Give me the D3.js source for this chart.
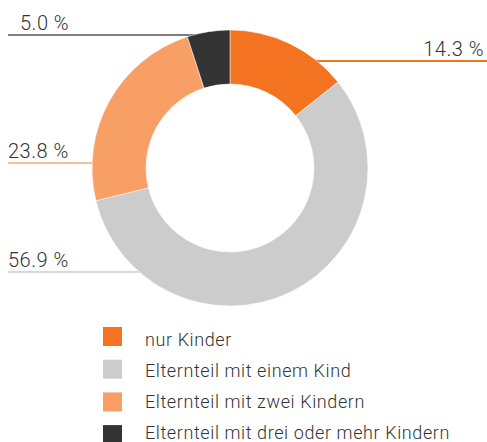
<!DOCTYPE html>
<html>
<head>
<meta charset="utf-8">
<script src="https://cdnjs.cloudflare.com/ajax/libs/d3/7.8.5/d3.min.js"></script>
<style>
  body { margin: 0; background: #fff; }
  svg { display: block; }
</style>
</head>
<body>
<svg id="chart" width="487" height="442"></svg>
<script>
// slice data, clockwise from 12 o'clock
const categories = ['nur Kinder', 'Elternteil mit einem Kind', 'Elternteil mit zwei Kindern', 'Elternteil mit drei oder mehr Kindern'];
const values = [14.3, 56.9, 23.8, 5.0];
const colors = ['#f47321', '#cccccc', '#f89f66', '#333333'];
const lineColors = ['#f47321', '#cccccc', '#f9a474', '#555555'];

// where each callout sits (label row and side)
const labelY = [61, 272, 163, 35];
const labelSide = ['right', 'left', 'left', 'left'];

let width = 487;
let cx = 230, cy = 168;
let outerR = 138, innerR = 84;

let svg = d3.select('#chart');

// callout lines stop at the outer edge of the ring
let callouts = svg.append('g');
values.forEach(function(v, i){
    let dy = labelY[i] - cy;
    let half = Math.sqrt(Math.max(0, outerR * outerR - dy * dy));
    let right = labelSide[i] == 'right';
    callouts.append('line')
        .attr('x1', right ? width : 8)
        .attr('x2', right ? cx + half - 2 : cx - half + 2)
        .attr('y1', labelY[i])
        .attr('y2', labelY[i])
        .attr('stroke', lineColors[i])
        .attr('stroke-width', i == 0 ? 2 : 1.5);
    callouts.append('text')
        .attr('x', right ? 484 : (i == 3 ? 20 : 8))
        .attr('y', labelY[i] - 5)
        .attr('text-anchor', right ? 'end' : 'start')
        .attr('font-family', 'Roboto, sans-serif')
        .attr('font-weight', 300)
        .attr('font-size', '20px')
        .attr('letter-spacing', '0.5px')
        .attr('fill', '#333')
        .text(v.toFixed(1) + ' %');
});

let pie = d3.pie().sort(null).value(d => d);
let arc = d3.arc().innerRadius(innerR).outerRadius(outerR);

svg.append('g')
    .attr('transform', 'translate(' + cx + ',' + cy + ')')
    .selectAll('path')
    .data(pie(values))
    .enter()
    .append('path')
    .attr('d', arc)
    .attr('fill', (d, i) => colors[i])
    .attr('stroke', '#fff')
    .attr('stroke-width', 0.5);

// legend
let legend = svg.append('g').attr('transform', 'translate(103,327)');
let rowH = 32.7;
categories.forEach(function(c, i){
    legend.append('rect')
        .attr('x', 0)
        .attr('y', i * rowH)
        .attr('width', 19)
        .attr('height', 19)
        .attr('fill', colors[i]);
    legend.append('text')
        .attr('x', 42)
        .attr('y', i * 31.3 + 18.5)
        .attr('font-family', 'Roboto, sans-serif')
        .attr('font-weight', 300)
        .attr('font-size', '18px')
        .attr('letter-spacing', '0.6px')
        .attr('fill', '#333')
        .text(c);
});
</script>
</body>
</html>
